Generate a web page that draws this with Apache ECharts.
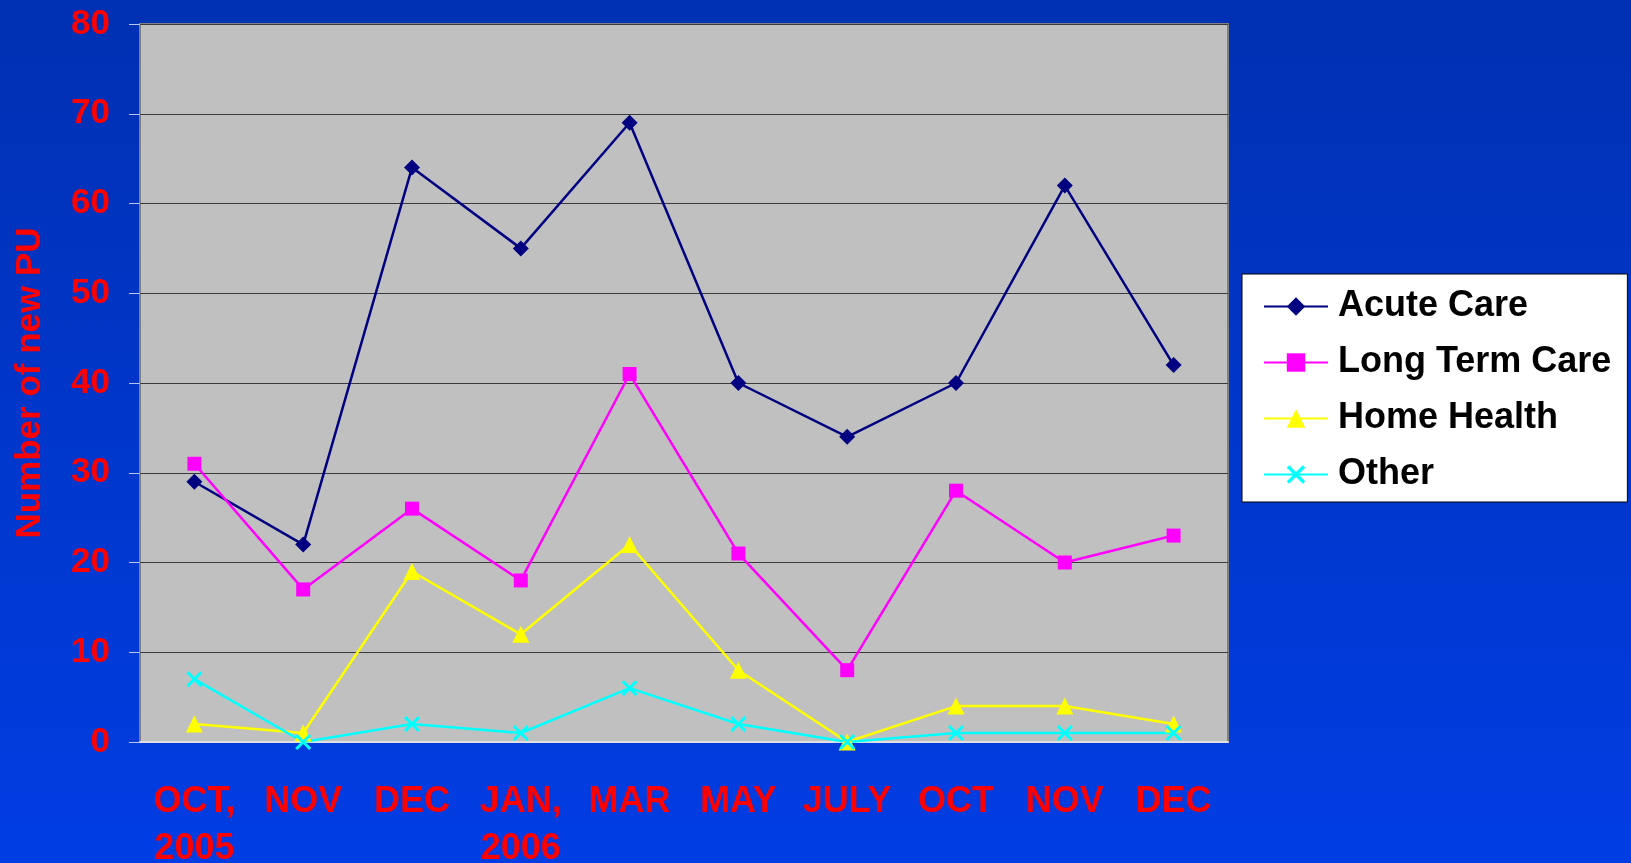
<!DOCTYPE html>
<html>
<head>
<meta charset="utf-8">
<title>Number of new PU</title>
<script src="https://cdn.jsdelivr.net/npm/echarts@6/dist/echarts.min.js"></script>
<style>
    html, body { margin: 0; padding: 0; }
    #main { width: 1631px; height: 863px; }
</style>
</head>
<body>
<div id="main"></div>
<script>
// 横轴月份
var months = ['OCT,\n2005', 'NOV', 'DEC', 'JAN,\n2006', 'MAR', 'MAY', 'JULY', 'OCT', 'NOV', 'DEC'];
// 各类新增 PU 数量
var acuteCare = [29, 22, 64, 55, 69, 40, 34, 40, 62, 42];
var longTermCare = [31, 17, 26, 18, 41, 21, 8, 28, 20, 23];
var homeHealth = [2, 1, 19, 12, 22, 8, 0, 4, 4, 2];
var other = [7, 0, 2, 1, 6, 2, 0, 1, 1, 1];
var yTicks = [0, 10, 20, 30, 40, 50, 60, 70, 80];

(function () {
    var myChart = echarts.init(document.getElementById('main'));
    // 叉形标记 (ECharts 没有内置 x)
    var crossPath = 'path://M0,1.3L1.3,0L5,3.7L8.7,0L10,1.3L6.3,5L10,8.7L8.7,10L5,6.3L1.3,10L0,8.7L3.7,5Z';
    var labelRed = '#FF0000';
    var font = 'Liberation Sans, Arial, sans-serif';

    function makeLine(name, data, color, symbol, size, width) {
        return {
            name: name,
            type: 'line',
            data: data,
            symbol: symbol,
            symbolSize: size,
            showAllSymbol: true,
            lineStyle: { color: color, width: width },
            itemStyle: { color: color },
            emphasis: { disabled: true },
            animation: false
        };
    }

    var option = {
        backgroundColor: new echarts.graphic.LinearGradient(0, 0, 0, 1, [
            { offset: 0, color: '#0030B2' },
            { offset: 1, color: '#003DE3' }
        ]),
        grid: {
            left: 140,
            top: 24,
            right: 403,
            bottom: 121,
            outerBoundsMode: 'none', // 不让标签挤压绘图区
            show: true,
            backgroundColor: '#C0C0C0',
            borderColor: '#808080',
            borderWidth: 2
        },
        legend: {
            orient: 'vertical',
            left: 1242,
            top: 274,
            backgroundColor: '#FFFFFF',
            borderColor: '#000000',
            borderWidth: 1,
            padding: [12, 16, 7, 21],
            itemWidth: 64,
            itemHeight: 23,
            itemGap: 15,
            textStyle: {
                color: '#000000',
                fontFamily: font,
                fontWeight: 'bold',
                fontSize: 36,
                lineHeight: 41,
                padding: [0, 0, 0, 5]
            },
            data: ['Acute Care', 'Long Term Care', 'Home Health', 'Other']
        },
        xAxis: {
            type: 'category',
            data: months,
            boundaryGap: true,
            axisLine: { lineStyle: { color: '#E0E0E0', width: 2 } },
            axisTick: { length: 11, lineStyle: { color: '#E8E8F0', width: 1 } },
            axisLabel: {
                color: labelRed,
                fontFamily: font,
                fontWeight: 'bold',
                fontSize: 36,
                lineHeight: 47,
                margin: 37,
                interval: 0
            },
            splitLine: { show: false }
        },
        yAxis: {
            type: 'value',
            min: yTicks[0],
            max: yTicks[yTicks.length - 1],
            interval: 10,
            name: 'Number of new PU',
            nameLocation: 'middle',
            nameGap: 92,
            nameTextStyle: {
                color: labelRed,
                fontFamily: font,
                fontWeight: 'bold',
                fontSize: 35
            },
            axisLine: { show: false },
            axisTick: { show: true, length: 11, lineStyle: { color: '#B8C4E8', width: 1 } },
            axisLabel: {
                color: labelRed,
                fontFamily: font,
                fontWeight: 'bold',
                fontSize: 35,
                margin: 30
            },
            splitLine: { lineStyle: { color: '#3A3A3A', width: 1 } }
        },
        series: [
            makeLine('Acute Care', acuteCare, '#000080', 'diamond', 16, 2.5),
            makeLine('Long Term Care', longTermCare, '#FF00FF', 'rect', 14, 2.5),
            makeLine('Home Health', homeHealth, '#FFFF00', 'triangle', 17, 2.5),
            makeLine('Other', other, '#00FFFF', crossPath, 16, 2.5)
        ]
    };
    myChart.setOption(option);
    window.addEventListener('resize', function () {
        myChart.resize();
    });
})();
</script>
</body>
</html>
